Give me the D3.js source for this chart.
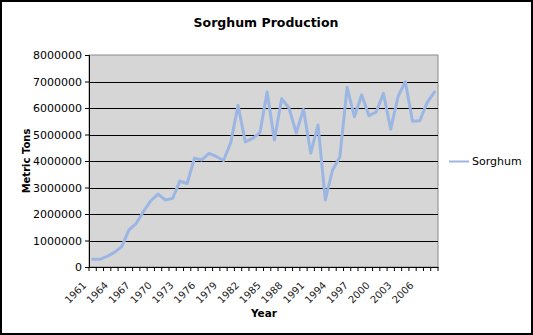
<!DOCTYPE html>
<html>
<head>
<meta charset="utf-8">
<script src="https://cdn.jsdelivr.net/npm/d3@7/dist/d3.min.js"></script>
<style>
  html, body { margin: 0; padding: 0; background: #fff; }
  svg { display: block; font-family: "DejaVu Sans", Verdana, sans-serif; }
</style>
</head>
<body>
<svg id="chart" width="533" height="335"></svg>
<script>
// Annual sorghum production, metric tons
const years = d3.range(1961, 2009);
const production = [
  290000, 290000, 400000, 550000, 770000, 1400000, 1650000, 2100000, 2500000, 2750000,
  2530000, 2590000, 3240000, 3150000, 4110000, 4040000, 4290000, 4170000, 4020000, 4700000,
  6100000, 4720000, 4850000, 5060000, 6600000, 4790000, 6350000, 6000000, 5060000, 5950000,
  4300000, 5360000, 2530000, 3660000, 4150000, 6780000, 5670000, 6490000, 5710000, 5850000,
  6550000, 5200000, 6430000, 6990000, 5500000, 5520000, 6200000, 6600000
];
const yTicks = [0, 1000000, 2000000, 3000000, 4000000, 5000000, 6000000, 7000000, 8000000];
const labelYears = years.filter((y, i) => i % 3 === 0);
const seriesName = "Sorghum";

const svg = d3.select("#chart");
const W = 533, H = 335;
const plot = { left: 89, right: 438, top: 55, bottom: 267 };

// frame around the whole chart
svg.append("rect").attr("x", 1).attr("y", 1).attr("width", W - 2).attr("height", H - 2)
  .attr("fill", "#fff").attr("stroke", "#000").attr("stroke-width", 2);

const x = d3.scaleBand().domain(years).range([plot.left, plot.right]).padding(0);
const y = d3.scaleLinear().domain([0, 8000000]).range([plot.bottom, plot.top]);

// plot area
svg.append("rect")
  .attr("x", plot.left).attr("y", plot.top)
  .attr("width", plot.right - plot.left).attr("height", plot.bottom - plot.top)
  .attr("fill", "#d6d6d6").attr("stroke", "#8a8a8a").attr("stroke-width", 1);

// horizontal gridlines
svg.append("g").selectAll("line").data(yTicks.slice(1, -1)).join("line")
  .attr("x1", plot.left).attr("x2", plot.right)
  .attr("y1", d => Math.round(y(d)) + 0.5).attr("y2", d => Math.round(y(d)) + 0.5)
  .attr("stroke", "#000").attr("stroke-width", 1);

// y axis
const yAxis = svg.append("g").attr("transform", `translate(${plot.left},0)`)
  .call(d3.axisLeft(y).tickValues(yTicks).tickFormat(d3.format("d")).tickSize(4).tickPadding(3));
yAxis.select(".domain").attr("stroke", "#000");
yAxis.selectAll("text").attr("font-size", 11).attr("fill", "#000")
  .attr("font-family", "DejaVu Sans, Verdana, sans-serif");

// x axis: ticks on category boundaries, labels every third year
const xAxis = svg.append("g").attr("transform", `translate(0,${plot.bottom})`)
  .call(d3.axisBottom(x).tickValues(labelYears).tickSize(0).tickFormat(d3.format("d")));
xAxis.select(".domain").attr("stroke", "#000");
xAxis.selectAll(".tick text")
  .attr("font-size", 10).attr("fill", "#222")
  .attr("font-family", "DejaVu Sans, Verdana, sans-serif")
  .attr("text-anchor", "end")
  .attr("y", 0).attr("dy", 0)
  .attr("transform", `translate(${-x.bandwidth() / 2 - 2},19) rotate(-45)`);
const boundaries = years.map(d => x(d)).concat([plot.right]);
svg.append("g").selectAll("line").data(boundaries).join("line")
  .attr("x1", d => d).attr("x2", d => d)
  .attr("y1", plot.bottom).attr("y2", plot.bottom + 4)
  .attr("stroke", "#000").attr("stroke-width", 1);

// series line
const line = d3.line()
  .x((d, i) => x(years[i]) + x.bandwidth() / 2)
  .y(d => y(d));
svg.append("path").datum(production)
  .attr("d", line)
  .attr("fill", "none")
  .attr("stroke", "#9cb6e4")
  .attr("stroke-width", 3)
  .attr("stroke-linejoin", "round")
  .attr("stroke-linecap", "round");

// titles
svg.append("text").attr("x", 266).attr("y", 27).attr("text-anchor", "middle")
  .attr("font-size", 12.5).attr("font-weight", "bold").text("Sorghum Production");
svg.append("text").attr("x", 264).attr("y", 317).attr("text-anchor", "middle")
  .attr("font-size", 10.5).attr("font-weight", "bold").text("Year");
svg.append("text").attr("transform", "translate(30,161) rotate(-90)")
  .attr("text-anchor", "middle")
  .attr("font-size", 10).attr("font-weight", "bold").text("Metric Tons");

// legend
const legend = svg.append("g").attr("transform", "translate(449,161.5)");
legend.append("line").attr("x1", 0).attr("x2", 20).attr("y1", 0).attr("y2", 0)
  .attr("stroke", "#9cb6e4").attr("stroke-width", 2);
legend.append("text").attr("x", 23).attr("y", 0).attr("dy", "0.35em")
  .attr("font-size", 11).text(seriesName);
</script>
</body>
</html>
